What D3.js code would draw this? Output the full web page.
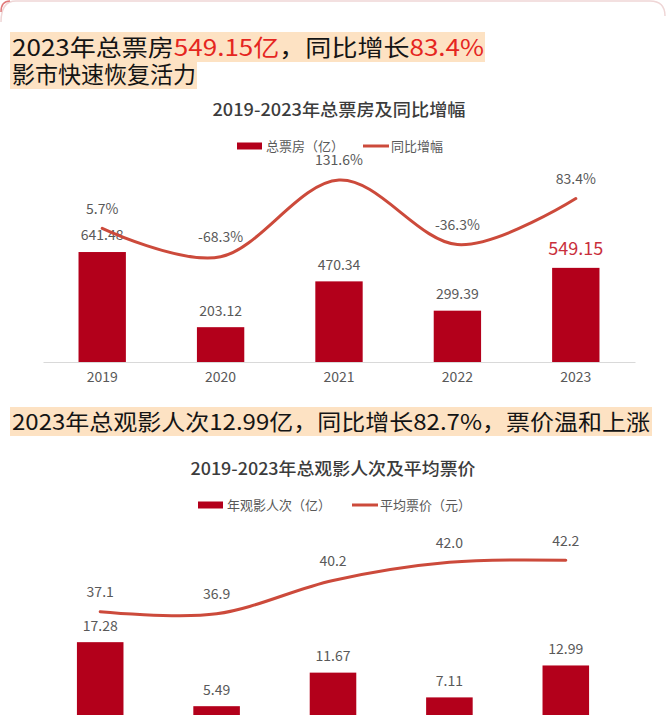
<!DOCTYPE html>
<html>
<head>
<meta charset="utf-8">
<script src="https://cdn.jsdelivr.net/npm/d3@7"></script>
<style>
  body { margin: 0; background: #fff; }
  svg { display: block; font-family: "Noto Sans CJK SC", "Noto Sans", sans-serif; }
</style>
</head>
<body>
<div class="page"></div>
<script>
const years = ["2019", "2020", "2021", "2022", "2023"];
const boxOffice = [641.48, 203.12, 470.34, 299.39, 549.15];
const boxGrowth = [5.7, -68.3, 131.6, -36.3, 83.4];
const admissions = [17.28, 5.49, 11.67, 7.11, 12.99];
const avgPrice = [37.1, 36.9, 40.2, 42.0, 42.2];

const barColor = "#b3001b";
const lineColor = "#cc4a3b";
const labelColor = "#595959";
const highlight = "#e5261f";

const svg = d3.select(".page")
    .append("svg")
    .attr("width", 666)
    .attr("height", 715);

// faint card edge at the very top
svg.append("path")
    .attr("d", "M1,22 Q1,1 16,1 L650,1 Q665,1 665,16")
    .attr("fill", "none")
    .attr("stroke", "#efd6d6")
    .attr("stroke-width", 1.5);
svg.append("path")
    .attr("d", "M1,12 Q1,1 10,1")
    .attr("fill", "none")
    .attr("stroke", "#e07a7a")
    .attr("stroke-width", 1.5);

// headline blocks
function headline(lines) {
    lines.forEach(l => {
        svg.append("rect")
            .attr("x", l.bx).attr("y", l.by)
            .attr("width", l.bw).attr("height", l.bh)
            .attr("fill", "#fde2c3");
        const t = svg.append("text")
            .attr("x", 12).attr("y", l.base)
            .attr("font-size", l.size)
            .attr("fill", "#141414");
        if (l.len) t.attr("textLength", l.len).attr("lengthAdjust", "spacingAndGlyphs");
        l.parts.forEach(p => {
            t.append("tspan").attr("fill", p[1] ? highlight : "#141414").text(p[0]);
        });
    });
}

headline([
    { bx: 10, by: 32, bw: 475, bh: 30, base: 56, size: 23, len: 472,
      parts: [["2023年总票房"], ["549.15亿", true], ["，同比增长"], ["83.4%", true]] },
    { bx: 10, by: 62, bw: 187, bh: 27, base: 83, size: 23, len: 0,
      parts: [["影市快速恢复活力"]] },
    { bx: 10, by: 407, bw: 642, bh: 29, base: 430, size: 22, len: 638,
      parts: [["2023年总观影人次12.99亿，同比增长82.7%，票价温和上涨"]] }
]);

function drawCombo(cfg) {
    const g = svg.append("g");

    g.append("text")
        .attr("x", cfg.titleX).attr("y", cfg.titleY)
        .attr("text-anchor", "middle")
        .attr("font-size", 17)
        .attr("font-weight", 500)
        .attr("fill", "#3c3c3c")
        .attr("textLength", cfg.titleLen)
        .attr("lengthAdjust", "spacingAndGlyphs")
        .text(cfg.title);

    // legend
    const lg = g.append("g").attr("transform", `translate(0,${cfg.legendY})`);
    lg.append("rect")
        .attr("x", cfg.legendX[0]).attr("y", -3.5)
        .attr("width", 25).attr("height", 7)
        .attr("fill", barColor);
    lg.append("text")
        .attr("x", cfg.legendX[0] + 29).attr("y", 0).attr("dy", "0.35em")
        .attr("font-size", 13).attr("fill", labelColor)
        .text(cfg.barName);
    lg.append("line")
        .attr("x1", cfg.legendX[1]).attr("x2", cfg.legendX[1] + 26)
        .attr("y1", 0).attr("y2", 0)
        .attr("stroke", lineColor).attr("stroke-width", 3);
    lg.append("text")
        .attr("x", cfg.legendX[1] + 28).attr("y", 0).attr("dy", "0.35em")
        .attr("font-size", 13).attr("fill", labelColor)
        .text(cfg.lineName);

    const x = d3.scaleBand()
        .domain(years)
        .range(cfg.xRange)
        .paddingInner(0.6)
        .paddingOuter(0.3);

    const yBar = d3.scaleLinear().domain(cfg.barDomain).range(cfg.barRange);
    const yLine = d3.scaleLinear().domain(cfg.lineDomain).range(cfg.lineRange);

    // the second chart's axis sits below the bottom of the picture
    if (cfg.showAxis) {
        const xAxis = d3.axisBottom(x).tickSize(0).tickPadding(10);
        const ax = g.append("g")
            .attr("transform", `translate(0,${cfg.barRange[0]})`)
            .call(xAxis);
        ax.select(".domain").attr("stroke", "#d9d9d9");
        ax.selectAll(".tick text")
            .attr("font-size", 14)
            .attr("fill", labelColor)
            .attr("font-family", "'Noto Sans CJK SC', sans-serif");
    }

    g.selectAll(".bar")
        .data(cfg.bars)
        .enter()
        .append("rect")
        .attr("class", "bar")
        .attr("x", (_, i) => x(years[i]))
        .attr("y", d => yBar(d))
        .attr("width", x.bandwidth())
        .attr("height", d => yBar(0) - yBar(d))
        .attr("fill", barColor);

    g.selectAll(".bar-label")
        .data(cfg.bars)
        .enter()
        .append("text")
        .attr("class", "bar-label")
        .attr("x", (_, i) => x(years[i]) + x.bandwidth() / 2)
        .attr("y", (d, i) => yBar(d) - (cfg.hot === i ? 19 : 16.5))
        .attr("dy", "0.35em")
        .attr("text-anchor", "middle")
        .attr("font-size", (_, i) => cfg.hot === i ? 18 : 14)
        .attr("fill", (_, i) => cfg.hot === i ? "#c92f3c" : labelColor)
        .text(d => d.toFixed(2));

    const line = d3.line()
        .x((_, i) => x(years[i]) + x.bandwidth() / 2)
        .y(d => yLine(d))
        .curve(d3.curveCatmullRom.alpha(0));

    g.append("path")
        .datum(cfg.line)
        .attr("d", line)
        .attr("fill", "none")
        .attr("stroke", lineColor)
        .attr("stroke-width", 3)
        .attr("stroke-linecap", "round");

    g.selectAll(".line-label")
        .data(cfg.line)
        .enter()
        .append("text")
        .attr("class", "line-label")
        .attr("x", (_, i) => x(years[i]) + x.bandwidth() / 2)
        .attr("y", d => yLine(d) - 19.5)
        .attr("dy", "0.35em")
        .attr("text-anchor", "middle")
        .attr("font-size", 14)
        .attr("fill", labelColor)
        .text(cfg.lineFmt);
}

drawCombo({
    title: "2019-2023年总票房及同比增幅",
    titleX: 339, titleY: 116, titleLen: 253,
    legendY: 146, legendX: [237, 363],
    barName: "总票房（亿）", lineName: "同比增幅",
    xRange: [43, 635], showAxis: true,
    bars: boxOffice, barDomain: [0, 700], barRange: [362, 242],
    line: boxGrowth, lineDomain: [-100, 150], lineRange: [269, 173],
    lineFmt: d => d + "%",
    hot: 4
});

drawCombo({
    title: "2019-2023年总观影人次及平均票价",
    titleX: 333, titleY: 475, titleLen: 285,
    legendY: 505, legendX: [198, 352],
    barName: "年观影人次（亿）", lineName: "平均票价（元）",
    xRange: [42, 624], showAxis: false,
    bars: admissions, barDomain: [0, 20], barRange: [736, 627.4],
    line: avgPrice, lineDomain: [30, 45], lineRange: [683.4, 532],
    lineFmt: d => d.toFixed(1),
    hot: -1
});
</script>
</body>
</html>
